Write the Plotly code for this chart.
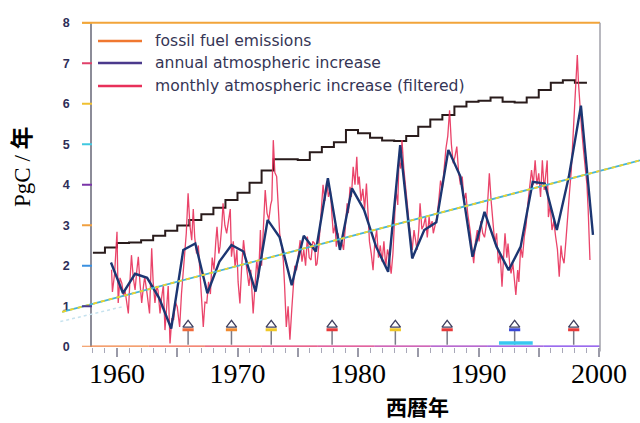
import plotly.graph_objects as go

# ---------------- data ----------------
fossil_years = list(range(1958, 1999))
fossil_values = [2.32, 2.45, 2.56, 2.57, 2.63, 2.74, 2.86, 2.99, 3.13, 3.27,
                 3.43, 3.62, 3.80, 4.05, 4.35, 4.63, 4.63, 4.61, 4.80, 4.93,
                 5.05, 5.35, 5.27, 5.16, 5.09, 5.08, 5.20, 5.43, 5.61, 5.72,
                 5.93, 6.05, 6.07, 6.15, 6.05, 6.03, 6.15, 6.34, 6.52, 6.58,
                 6.52]

annual_years = list(range(1959, 2000))
annual_values = [2.08, 1.32, 1.80, 1.70, 1.20, 0.45, 2.39, 2.55, 1.32, 2.10,
                 2.51, 2.35, 1.36, 3.13, 2.70, 1.52, 2.74, 2.35, 4.16, 2.39,
                 3.91, 3.38, 2.47, 1.85, 4.98, 2.18, 2.88, 3.07, 4.86, 4.20,
                 2.22, 3.33, 2.47, 1.89, 2.47, 4.07, 4.03, 2.88, 4.20, 5.95,
                 2.76]

monthly_years = [
    1959.55, 1959.62, 1959.8, 1960.0, 1960.1, 1960.25, 1960.4, 1960.55, 1960.66, 1960.94,
    1961.05, 1961.2, 1961.35, 1961.5, 1961.65, 1961.77, 1961.9, 1962.05, 1962.2, 1962.3,
    1962.5, 1962.7, 1962.88, 1963.0, 1963.15, 1963.3, 1963.4, 1963.57, 1963.7, 1963.85,
    1963.98, 1964.1, 1964.25, 1964.4, 1964.55, 1964.7, 1964.85, 1965.0, 1965.2, 1965.35,
    1965.6, 1965.75, 1965.9, 1966.05, 1966.2, 1966.33, 1966.45, 1966.6, 1966.75, 1966.9,
    1967.05, 1967.16, 1967.3, 1967.45, 1967.6, 1967.75, 1967.9, 1968.05, 1968.2, 1968.3,
    1968.45, 1968.55, 1968.7, 1968.8, 1968.95, 1969.1, 1969.25, 1969.4, 1969.5, 1969.65,
    1969.8, 1969.95, 1970.05, 1970.2, 1970.35, 1970.5, 1970.65, 1970.8, 1970.95, 1971.1,
    1971.2, 1971.3, 1971.45, 1971.6, 1971.75, 1971.9, 1972.0, 1972.15, 1972.3, 1972.45,
    1972.6, 1972.75, 1972.85, 1972.97, 1973.1, 1973.25, 1973.4, 1973.5, 1973.65, 1973.8,
    1973.9, 1974.05, 1974.2, 1974.35, 1974.5, 1974.6, 1974.75, 1974.9, 1975.05, 1975.2,
    1975.35, 1975.5, 1975.65, 1975.8, 1975.95, 1976.1, 1976.25, 1976.4, 1976.5, 1976.6,
    1976.75, 1976.85, 1977.0, 1977.1, 1977.25, 1977.4, 1977.55, 1977.7, 1977.85, 1977.95,
    1978.1, 1978.2, 1978.35, 1978.5, 1978.65, 1978.8, 1978.95, 1979.1, 1979.2, 1979.34,
    1979.45, 1979.6, 1979.75, 1979.9, 1980.0, 1980.1, 1980.25, 1980.4, 1980.55, 1980.7,
    1980.85, 1980.95, 1981.1, 1981.25, 1981.4, 1981.55, 1981.7, 1981.85, 1982.0, 1982.15,
    1982.3, 1982.45, 1982.6, 1982.75, 1982.9, 1983.05, 1983.15, 1983.3, 1983.4, 1983.55,
    1983.65, 1983.8, 1983.95, 1984.1, 1984.25, 1984.4, 1984.5, 1984.65, 1984.8, 1984.9,
    1985.05, 1985.15, 1985.3, 1985.45, 1985.6, 1985.75, 1985.9, 1986.0, 1986.15, 1986.25,
    1986.4, 1986.55, 1986.7, 1986.85, 1987.0, 1987.15, 1987.3, 1987.45, 1987.6, 1987.75,
    1987.9, 1988.05, 1988.2, 1988.35, 1988.5, 1988.65, 1988.8, 1988.95, 1989.1, 1989.3,
    1989.45, 1989.6, 1989.75, 1989.9, 1990.05, 1990.2, 1990.35, 1990.5, 1990.65, 1990.75,
    1990.9, 1991.05, 1991.15, 1991.35, 1991.5, 1991.65, 1991.8, 1991.95, 1992.1, 1992.2,
    1992.35, 1992.45, 1992.6, 1992.7, 1992.85, 1993.0, 1993.1, 1993.25, 1993.35, 1993.5,
    1993.65, 1993.8, 1993.95, 1994.1, 1994.25, 1994.4, 1994.55, 1994.7, 1994.85, 1995.0,
    1995.15, 1995.3, 1995.45, 1995.55, 1995.7, 1995.8, 1995.95, 1996.1, 1996.25, 1996.4,
    1996.55, 1996.7, 1996.85, 1996.95, 1997.1, 1997.25, 1997.4, 1997.55, 1997.7, 1997.85,
    1998.0, 1998.1, 1998.2, 1998.3, 1998.4, 1998.55, 1998.7, 1998.85, 1999.0, 1999.1,
    1999.25]
monthly_values = [
    1.90, 1.35, 1.80, 2.84, 1.08, 1.70, 1.57, 1.25, 1.40, 0.82,
    1.50, 2.26, 1.70, 1.40, 1.90, 2.22, 1.60, 1.08, 1.50, 1.73,
    1.30, 0.82, 2.43, 1.60, 1.08, 1.50, 1.40, 0.82, 1.20, 1.53,
    0.41, 0.90, 1.50, 0.08, 0.70, 0.66, 1.10, 0.98, 0.49, 1.30,
    2.30, 2.80, 3.79, 3.00, 2.63, 3.40, 2.70, 2.30, 2.50, 1.80,
    1.20, 0.49, 1.10, 1.08, 1.60, 1.30, 2.20, 1.90, 2.60, 2.96,
    2.30, 2.47, 3.00, 3.54, 3.00, 2.80, 3.10, 3.40, 2.22, 2.60,
    1.97, 2.40, 1.60, 1.07, 2.00, 2.63, 2.20, 1.81, 1.50, 1.90,
    1.24, 0.82, 1.50, 2.14, 1.70, 2.88, 2.00, 2.90, 3.87, 3.30,
    3.13, 3.50, 3.62, 5.10, 4.30, 4.20, 3.20, 2.80, 2.50, 2.14,
    1.56, 0.49, 1.00, 0.17, 0.90, 1.40, 2.00, 1.89, 2.30, 2.63,
    2.10, 2.39, 2.00, 2.72, 2.20, 2.14, 2.60, 2.55, 2.00, 2.05,
    2.50, 2.96, 3.60, 4.00, 3.60, 4.08, 3.70, 3.90, 3.20, 2.80,
    3.00, 2.47, 2.80, 2.39, 2.60, 2.39, 2.96, 3.54, 3.30, 3.95,
    3.70, 4.44, 4.00, 4.69, 4.00, 4.20, 3.60, 3.90, 3.40, 4.03,
    3.20, 2.60, 2.30, 1.89, 2.60, 2.88, 2.20, 2.50, 2.10, 2.60,
    1.97, 2.40, 2.20, 1.80, 2.30, 3.20, 3.87, 3.50, 4.60, 4.40,
    5.10, 4.40, 4.00, 3.50, 3.00, 2.60, 2.39, 2.88, 2.60, 2.39,
    2.90, 3.54, 2.90, 3.00, 3.20, 2.70, 3.21, 2.95, 3.10, 2.80,
    3.00, 3.20, 3.60, 4.10, 3.90, 4.50, 4.90, 5.20, 5.84, 5.00,
    4.53, 4.70, 4.94, 4.30, 4.00, 4.20, 3.60, 3.80, 3.30, 2.88,
    2.50, 2.06, 2.60, 2.88, 2.60, 3.10, 2.80, 2.70, 3.00, 3.50,
    4.28, 3.60, 3.20, 2.55, 2.80, 2.06, 2.30, 1.48, 2.30, 2.80,
    2.20, 2.55, 2.00, 1.81, 2.06, 1.60, 1.28, 1.89, 1.60, 2.47,
    2.20, 2.72, 3.00, 3.54, 3.90, 4.36, 4.00, 4.60, 4.00, 4.28,
    3.70, 4.60, 3.87, 4.20, 4.60, 3.20, 3.50, 2.88, 3.10, 2.72,
    2.40, 1.73, 2.50, 2.22, 2.06, 2.60, 3.30, 3.80, 4.36, 5.20,
    6.34, 6.80, 7.20, 6.50, 6.00, 5.40, 4.90, 4.50, 4.00, 3.40,
    2.14]

trend_years = [1955.45, 2003.4]
trend_values = [0.86, 4.60]
faint_years = [1955.3, 1960.5]
faint_values = [0.62, 0.99]

el_nino_years = [1965.9, 1969.5, 1972.8, 1977.85, 1983.1, 1987.4, 1993.0, 1997.9]
el_nino_colors = ['#f06a3a', '#f08a30', '#f0c828', '#e83a3a', '#f0c828', '#e83a3a', '#3a48d8', '#e83a3a']
extended_el_nino = [1991.7, 1994.5]

x_tick_vals = [1960, 1965, 1970, 1975, 1980, 1985, 1990, 1995, 2000]
x_tick_text = ['1960', '', '1970', '', '1980', '', '1990', '', '2000']
y_tick_vals = [0, 1, 2, 3, 4, 5, 6, 7, 8]
y_tick_colors = ['#f08a4a', '#4a3a90', '#3a90e0', '#f0a040', '#7a34a8', '#40c8e0', '#f0c030', '#e0406a', '#f0c030']

legend_labels = ['fossil fuel emissions', 'annual atmospheric increase',
                 'monthly atmospheric increase (filtered)']
legend_colors = ['#f07830', '#4b3a8c', '#e8305a']

axis_colors = ['#f08040', '#f06048', '#e84058', '#e03068', '#d83080', '#c034a0', '#a038c0', '#8a3ad8', '#7a3ae8']

# ---------------- geometry ----------------
W, H = 640, 423
PX0, PX1 = 92, 600          # plot left/right in pixels
PY_TOP, PY_BOT = 22.7, 346.7  # y=8 and y=0 pixels
YEAR_AT_117 = 1960
PX_PER_YEAR = 12.05


def px_to_year(p):
    return YEAR_AT_117 + (p - 117) / PX_PER_YEAR


X_RANGE = [px_to_year(PX0), px_to_year(PX1)]
X2_RANGE = [px_to_year(0), px_to_year(W)]

fig = go.Figure()

# fossil fuel emissions (step line)
fig.add_trace(go.Scatter(
    x=fossil_years + [fossil_years[-1] + 1],
    y=fossil_values + [fossil_values[-1]],
    mode='lines', line=dict(color='#2a1c1c', width=2, shape='hv'),
    name=legend_labels[0], showlegend=False))

# monthly filtered
fig.add_trace(go.Scatter(
    x=monthly_years, y=monthly_values, mode='lines',
    line=dict(color='#e8305a', width=1.3), opacity=0.9,
    name=legend_labels[2], showlegend=False))

# annual
fig.add_trace(go.Scatter(
    x=[y + 0.5 for y in annual_years], y=annual_values, mode='lines',
    line=dict(color='#1c3672', width=2.4),
    name=legend_labels[1], showlegend=False))

# El Nino arrows: stems
stem_x, stem_y = [], []
for yr in el_nino_years:
    stem_x += [yr, yr, None]
    stem_y += [0.05, 0.42, None]
fig.add_trace(go.Scatter(x=stem_x, y=stem_y, mode='lines',
                         line=dict(color='#7a7a88', width=1.5),
                         showlegend=False, hoverinfo='skip'))
fig.add_trace(go.Scatter(x=el_nino_years, y=[0.42] * len(el_nino_years), mode='markers',
                         marker=dict(symbol='line-ew', size=8,
                                     line=dict(color=el_nino_colors, width=3)),
                         showlegend=False, hoverinfo='skip'))
fig.add_trace(go.Scatter(x=el_nino_years, y=[0.54] * len(el_nino_years), mode='markers',
                         marker=dict(symbol='triangle-up', size=9, color='white',
                                     line=dict(color='#404060', width=1.3)),
                         showlegend=False, hoverinfo='skip'))
# extended El Nino bar
fig.add_trace(go.Scatter(x=extended_el_nino, y=[0.09, 0.09], mode='lines',
                         line=dict(color='#38c8f0', width=3.5),
                         showlegend=False, hoverinfo='skip'))

# trend lines on a full-width x axis (x2) sharing the y axis
fig.add_trace(go.Scatter(x=faint_years, y=faint_values, mode='lines', xaxis='x2', yaxis='y',
                         line=dict(color='#c6e2ee', width=1.5, dash='dot'),
                         showlegend=False, hoverinfo='skip'))
fig.add_trace(go.Scatter(x=trend_years, y=trend_values, mode='lines', xaxis='x2', yaxis='y',
                         line=dict(color='#44b4d8', width=1.8),
                         showlegend=False, hoverinfo='skip'))
fig.add_trace(go.Scatter(x=trend_years, y=trend_values, mode='lines', xaxis='x2', yaxis='y',
                         line=dict(color='#f0d428', width=1.8, dash='4px,4px'),
                         showlegend=False, hoverinfo='skip'))

shapes = []
# coloured x axis (y = 0)
n = len(axis_colors)
for i, c in enumerate(axis_colors):
    shapes.append(dict(type='line', xref='x domain', yref='y', x0=i / n, x1=(i + 1) / n,
                       y0=0, y1=0, line=dict(color=c, width=2.5)))
# coloured y tick marks
for v, c in zip(y_tick_vals, y_tick_colors):
    shapes.append(dict(type='line', xref='x domain', yref='y', x0=-10 / (PX1 - PX0), x1=0,
                       y0=v, y1=v, line=dict(color=c, width=2)))
# top orange frame line and right grey frame line
shapes.append(dict(type='line', xref='x domain', yref='y domain', x0=-10 / (PX1 - PX0), x1=1,
                   y0=1, y1=1, line=dict(color='#f2a43a', width=2)))
shapes.append(dict(type='line', xref='x domain', yref='y domain', x0=1, x1=1,
                   y0=-0.015, y1=1, line=dict(color='#a0a0aa', width=1.5)))

# manual legend
annotations = []
row_y = [41, 63, 86]
for lab, col, ry in zip(legend_labels, legend_colors, row_y):
    shapes.append(dict(type='line', xref='paper', yref='paper', x0=98 / W, x1=142 / W,
                       y0=1 - ry / H, y1=1 - ry / H, line=dict(color=col, width=2.5)))
    annotations.append(dict(text=lab, xref='paper', yref='paper', x=153 / W, y=1 - ry / H,
                            xanchor='left', yanchor='middle', showarrow=False,
                            font=dict(family='DejaVu Sans', size=15.6, color='#353555')))

# axis titles
annotations.append(dict(text='PgC / <b>年</b>', xref='paper', yref='paper',
                        x=22 / W, y=1 - 167 / H, xanchor='center', yanchor='middle',
                        textangle=-90, showarrow=False,
                        font=dict(family='Liberation Serif, Noto Sans CJK JP', size=23, color='black')))
annotations.append(dict(text='<b>西暦年</b>', xref='paper', yref='paper',
                        x=417 / W, y=1 - 406 / H, xanchor='center', yanchor='middle',
                        showarrow=False,
                        font=dict(family='Noto Sans CJK JP', size=21, color='black')))

fig.update_layout(
    width=W, height=H, autosize=False,
    margin=dict(l=0, r=0, t=0, b=0, pad=0),
    paper_bgcolor='white', plot_bgcolor='rgba(0,0,0,0)',
    showlegend=False,
    xaxis=dict(domain=[PX0 / W, PX1 / W], range=X_RANGE, anchor='y', automargin=False,
               tickmode='array', tickvals=x_tick_vals, ticktext=x_tick_text,
               ticks='outside', ticklen=9, tickwidth=1.5, tickcolor='#9a9aa8',
               ticklabelstandoff=-7,
               showgrid=False, zeroline=False, showline=False,
               tickfont=dict(family='Liberation Serif', size=28, color='black'),
               minor=dict(ticks='outside', ticklen=5, tickwidth=1.3, tickcolor='#a8a8b8',
                          tickmode='linear', tick0=1960, dtick=1, showgrid=False)),
    yaxis=dict(domain=[1 - PY_BOT / H, 1 - PY_TOP / H], range=[0, 8], anchor='x', automargin=False,
               tickmode='array', tickvals=y_tick_vals,
               ticks='outside', ticklen=18, tickcolor='rgba(0,0,0,0)',
               showline=True, linecolor='#8c8c98', linewidth=1.5,
               showgrid=False, zeroline=False,
               tickfont=dict(family='Liberation Sans', size=12.5, color='#2e2e58', weight='bold')),
    xaxis2=dict(domain=[0, 1], range=X2_RANGE, anchor='y', visible=False, automargin=False,
                showgrid=False, zeroline=False),
    shapes=shapes, annotations=annotations,
)

fig.write_html('out.html')
